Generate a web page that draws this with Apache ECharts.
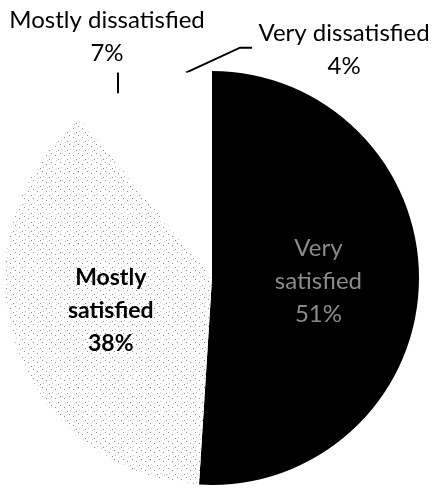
<!DOCTYPE html>
<html>
<head>
<meta charset="utf-8">
<script src="https://cdn.jsdelivr.net/npm/echarts@6/dist/echarts.min.js"></script>
<style>
html,body{margin:0;padding:0;background:#fff;}
#chart{width:436px;height:489px;}
</style>
</head>
<body>
<div id="chart"></div>
<script>
var categories = ['Very\nsatisfied', 'Mostly\nsatisfied', 'Mostly dissatisfied', 'Very dissatisfied'];
var values = [51, 38, 7, 4];
var sliceColors = ['#000000', '#f3f3f3', '#ffffff', '#ffffff'];

// light speckled texture for the "Mostly satisfied" slice
function speckle() {
  var c = document.createElement('canvas');
  c.width = 9; c.height = 9;
  var g = c.getContext('2d');
  g.fillStyle = '#ffffff';
  g.fillRect(0, 0, 9, 9);
  g.fillStyle = 'rgba(0,0,0,0.45)';
  g.fillRect(1, 2, 1, 1);
  g.fillRect(6, 0, 1, 1);
  g.fillRect(4, 6, 1, 1);
  g.fillStyle = 'rgba(0,0,0,0.2)';
  g.fillRect(7, 5, 1, 1);
  g.fillRect(2, 7, 1, 1);
  return c;
}

var chart = echarts.init(document.getElementById('chart'), null, {renderer: 'canvas'});

var data = categories.map(function (c, i) {
  var isOutside = i >= 2;
  return {
    name: c,
    value: values[i],
    itemStyle: {color: i === 1 ? {image: speckle(), repeat: 'repeat'} : sliceColors[i]},
    label: {
      position: isOutside ? 'outside' : 'inside',
      color: i === 0 ? '#8a8a8a' : '#000',
      fontWeight: i === 1 ? 'bold' : 'normal',
      fontSize: i === 1 ? 23 : 24
    },
    labelLine: {show: isOutside, lineStyle: {color: '#000', width: 2}}
  };
});

chart.setOption({
  animation: false,
  backgroundColor: '#fff',
  series: [{
    type: 'pie',
    center: [212, 278],
    radius: 207,
    startAngle: 90,
    clockwise: true,
    avoidLabelOverlap: false,
    emphasis: {disabled: true},
    itemStyle: {borderWidth: 0},
    label: {
      show: true,
      fontFamily: 'Lato',
      lineHeight: 33,
      formatter: function (p) { return p.name + '\n' + p.value + '%'; }
    },
    labelLayout: function (params) {
      var p0 = params.labelLinePoints && params.labelLinePoints[0];
      if (!p0) return {};
      if (params.dataIndex === 2) {
        return {
          x: p0[0] - 11, y: p0[1] - 57,
          align: 'center', verticalAlign: 'middle',
          labelLinePoints: [[p0[0], p0[1]], [p0[0], p0[1] - 21], [p0[0], p0[1] - 21]]
        };
      }
      if (params.dataIndex === 3) {
        return {
          x: p0[0] + 158, y: p0[1] - 23,
          align: 'center', verticalAlign: 'middle',
          labelLinePoints: [[p0[0], p0[1]], [p0[0] + 54, p0[1] - 25], [p0[0] + 66, p0[1] - 25]]
        };
      }
      return {};
    },
    data: data
  }]
});
</script>
</body>
</html>
